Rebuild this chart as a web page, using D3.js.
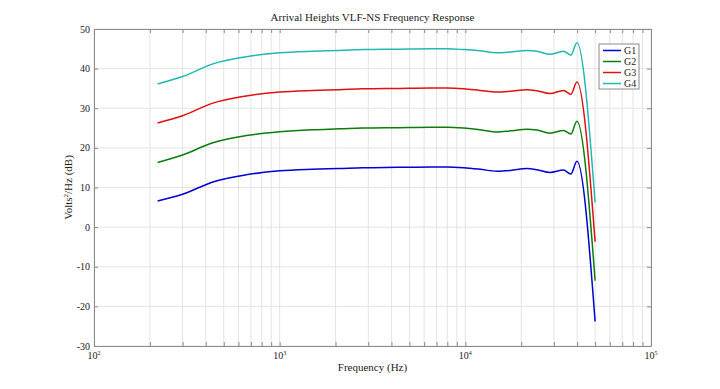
<!DOCTYPE html>
<html>
<head>
<meta charset="utf-8">
<script src="https://cdn.jsdelivr.net/npm/d3@7"></script>
<style>
  body { margin: 0; background: #fff; }
  svg text { font-family: "Liberation Serif", "Times New Roman", serif; fill: #222; }
</style>
</head>
<body>
<div id="chart"></div>
<script>
// frequencies (Hz)
var freq = [220, 300, 437, 660, 1000, 1500, 2100, 2800, 4300, 6500, 8000, 9800, 12000, 14800, 17500, 21500, 24300, 28600, 33800, 37000, 39900, 50000];

var g1 = [6.6, 8.3, 11.4, 13.2, 14.2, 14.6, 14.8, 15.0, 15.1, 15.2, 15.2, 15.0, 14.6, 14.1, 14.3, 14.8, 14.5, 13.8, 14.4, 13.4, 16.6, -23.8];
var g2 = [16.3, 18.2, 21.3, 23.1, 24.1, 24.6, 24.8, 25.0, 25.1, 25.2, 25.2, 25.0, 24.6, 24.0, 24.3, 24.7, 24.5, 23.7, 24.4, 23.5, 26.7, -13.5];
var g3 = [26.3, 28.1, 31.3, 33.1, 34.1, 34.5, 34.7, 34.9, 35.0, 35.1, 35.1, 34.9, 34.5, 34.1, 34.3, 34.7, 34.4, 33.7, 34.5, 33.5, 36.6, -3.7];
var g4 = [36.1, 38.0, 41.2, 43.0, 44.0, 44.4, 44.6, 44.8, 44.9, 45.0, 45.0, 44.8, 44.5, 44.0, 44.2, 44.6, 44.4, 43.6, 44.4, 43.4, 46.5, 6.2];

var seriesNames = ["G1", "G2", "G3", "G4"];
var seriesColors = ["#0000d4", "#0a7d0a", "#e01010", "#22b8b2"];
var yTicks = [-30, -20, -10, 0, 10, 20, 30, 40, 50];
var xDecades = [2, 3, 4, 5];

var svgWidth = 720, svgHeight = 389;
var margin = { top: 29, right: 69, bottom: 43, left: 94 };
var width = svgWidth - margin.left - margin.right;
var height = svgHeight - margin.top - margin.bottom;

var svg = d3.select("#chart").append("svg")
  .attr("width", svgWidth)
  .attr("height", svgHeight);

var chartGroup = svg.append("g")
  .attr("transform", `translate(${margin.left}, ${margin.top})`);

var xScale = d3.scaleLog().domain([100, 100000]).range([0, width]);
var yScale = d3.scaleLinear().domain([-30, 50]).range([height, 0]);

// minor tick positions 1..9 x 10^n
var xMinor = [];
[100, 1000, 10000].forEach(function (d) {
  for (var k = 1; k < 10; k++) xMinor.push(d * k);
});
xMinor.push(100000);

// grid
chartGroup.append("g").selectAll("line").data(xMinor).enter().append("line")
  .attr("x1", d => xScale(d)).attr("x2", d => xScale(d))
  .attr("y1", 0).attr("y2", height)
  .attr("stroke", "#e4e4e4").attr("stroke-width", 1);
chartGroup.append("g").selectAll("line").data(yTicks).enter().append("line")
  .attr("x1", 0).attr("x2", width)
  .attr("y1", d => yScale(d)).attr("y2", d => yScale(d))
  .attr("stroke", "#e4e4e4").attr("stroke-width", 1);

// axes (MATLAB style inward ticks on all sides)
var axisColor = "#8a8a8a";
function styleAxis(g) {
  g.select(".domain").attr("stroke", axisColor);
  g.selectAll(".tick line").attr("stroke", axisColor);
}
chartGroup.append("g").attr("transform", `translate(0, ${height})`)
  .call(d3.axisBottom(xScale).tickValues(xMinor).tickSizeInner(-4).tickSizeOuter(0).tickFormat(""))
  .call(styleAxis);
chartGroup.append("g")
  .call(d3.axisTop(xScale).tickValues(xMinor).tickSizeInner(-4).tickSizeOuter(0).tickFormat(""))
  .call(styleAxis);
chartGroup.append("g")
  .call(d3.axisLeft(yScale).tickValues(yTicks).tickSizeInner(-4).tickSizeOuter(0).tickFormat(""))
  .call(styleAxis);
chartGroup.append("g").attr("transform", `translate(${width}, 0)`)
  .call(d3.axisRight(yScale).tickValues(yTicks).tickSizeInner(-4).tickSizeOuter(0).tickFormat(""))
  .call(styleAxis);

// y tick labels
chartGroup.append("g").selectAll("text").data(yTicks).enter().append("text")
  .attr("x", -4).attr("y", d => yScale(d) + 3.5)
  .attr("text-anchor", "end").attr("font-size", 10)
  .text(d => d);

// x tick labels 10^n
var xl = chartGroup.append("g").selectAll("text").data(xDecades).enter().append("text")
  .attr("x", d => xScale(Math.pow(10, d)))
  .attr("y", height + 13)
  .attr("text-anchor", "middle").attr("font-size", 10);
xl.append("tspan").text("10");
xl.append("tspan").attr("font-size", 6).attr("dy", -4).text(d => d);

// curves
var allSeries = [g1, g2, g3, g4];
var line = d3.line()
  .x((d, i) => xScale(freq[i]))
  .y(d => yScale(d))
  .curve(d3.curveMonotoneX);

chartGroup.append("g").selectAll("path").data(allSeries).enter().append("path")
  .attr("d", d => line(d))
  .attr("fill", "none")
  .attr("stroke", (d, i) => seriesColors[i])
  .attr("stroke-width", 1.5);

// title and axis labels
chartGroup.append("text")
  .attr("x", width / 2).attr("y", -8)
  .attr("text-anchor", "middle").attr("font-size", 11)
  .text("Arrival Heights VLF-NS Frequency Response");

chartGroup.append("text")
  .attr("x", width / 2).attr("y", height + 25)
  .attr("text-anchor", "middle").attr("font-size", 11)
  .text("Frequency (Hz)");

var yl = chartGroup.append("text")
  .attr("transform", `translate(-22, ${height / 2}) rotate(-90)`)
  .attr("text-anchor", "middle").attr("font-size", 11);
yl.append("tspan").text("Volts");
yl.append("tspan").attr("font-size", 7).attr("dy", -4).text("2");
yl.append("tspan").attr("dy", 4).text("/Hz (dB)");

// legend
var legend = chartGroup.append("g").attr("transform", `translate(${width - 52}, 15)`);
legend.append("rect")
  .attr("x", 0).attr("y", 0).attr("width", 40).attr("height", 45)
  .attr("fill", "#fff").attr("stroke", "#8a8a8a");
var items = legend.selectAll(".item").data(seriesNames).enter().append("g")
  .attr("transform", (d, i) => `translate(0, ${6.5 + i * 11})`);
items.append("line")
  .attr("x1", 4).attr("x2", 22).attr("y1", 0).attr("y2", 0)
  .attr("stroke", (d, i) => seriesColors[i]).attr("stroke-width", 1.5);
items.append("text")
  .attr("x", 25).attr("y", 3.5).attr("font-size", 10)
  .text(d => d);
</script>
</body>
</html>
